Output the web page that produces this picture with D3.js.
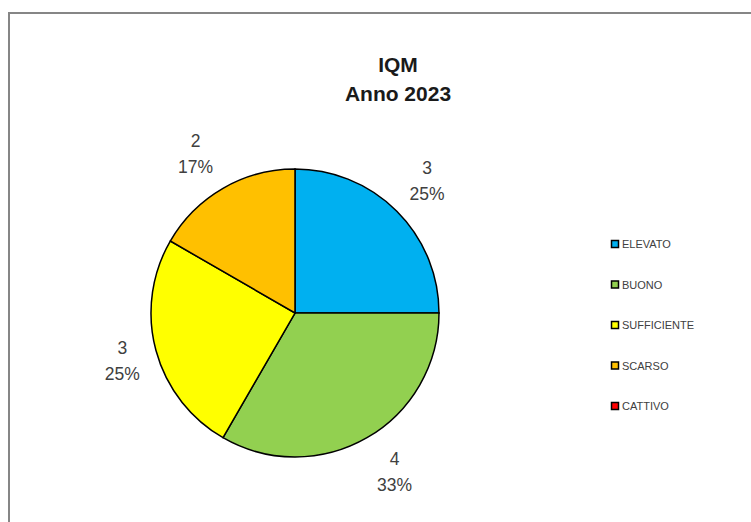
<!DOCTYPE html>
<html><head><meta charset="utf-8">
<script src="https://cdn.jsdelivr.net/npm/d3@7"></script>
<style>body{margin:0;background:#fff}svg{display:block}</style>
</head><body>
<svg id="c" width="751" height="522"></svg>
<script>
const categories = ["ELEVATO","BUONO","SUFFICIENTE","SCARSO","CATTIVO"];
const values = [3,4,3,2,0];
const colors = ["#00B0F0","#92D050","#FFFF00","#FFC000","#FF0000"];
const titleLines = ["IQM","Anno 2023"];

const svg = d3.select("#c");
svg.append("rect").attr("x",9).attr("y",13).attr("width",800).attr("height",600)
  .attr("fill","#fff").attr("stroke","#868686").attr("stroke-width",2);

const title = svg.append("text").attr("text-anchor","middle")
  .attr("font-family","Liberation Sans, Arial, sans-serif").attr("font-weight","bold")
  .attr("font-size",21).attr("fill","#1a1a1a");
titleLines.forEach((t,i)=>title.append("tspan").attr("x",398).attr("y",72+i*29).text(t));

const cx=295, cy=313, r=144, gap=13, hw=21, hh=23;
const total = d3.sum(values);
const pie = d3.pie().sort(null).value(d=>d.v);
const data = pie(categories.map((c,i)=>({c,v:values[i],col:colors[i]})));
const arc = d3.arc().innerRadius(0).outerRadius(r);
const g = svg.append("g").attr("transform",`translate(${cx},${cy})`);
g.selectAll("path").data(data.filter(d=>d.value>0)).join("path")
  .attr("d",arc).attr("fill",d=>d.data.col).attr("stroke","#000").attr("stroke-width",1.5);

function labelPos(d){
  const a=(d.startAngle+d.endAngle)/2;
  const ux=Math.sin(a), uy=-Math.cos(a);
  const f=(v,k)=>Math.sign(v)*Math.min(1,Math.abs(v)*k);
  return [(r+gap)*ux+hw*f(ux,2),(r+gap)*uy+hh*f(uy,1.3)];
}
const lab = g.selectAll("text").data(data.filter(d=>d.value>0)).join("text")
  .attr("text-anchor","middle").attr("font-family","Liberation Sans, Arial, sans-serif")
  .attr("font-size",17.5).attr("fill","#404040")
  .attr("transform",d=>`translate(${labelPos(d)})`);
lab.append("tspan").attr("x",0).attr("y",-7).text(d=>d.value);
lab.append("tspan").attr("x",0).attr("y",19).text(d=>Math.round(d.value/total*100)+"%");

const y = d3.scalePoint().domain(categories).range([244,406]);
const leg = svg.append("g");
categories.forEach((c,i)=>{
  leg.append("rect").attr("x",611.5).attr("y",y(c)-3.5).attr("width",7).attr("height",7)
    .attr("fill",colors[i]).attr("stroke","#000").attr("stroke-width",1.5);
  leg.append("text").attr("x",622).attr("y",y(c)+4)
    .attr("font-family","Liberation Sans, Arial, sans-serif")
    .attr("font-size",11).attr("fill","#404040").text(c);
});
</script>
</body></html>
